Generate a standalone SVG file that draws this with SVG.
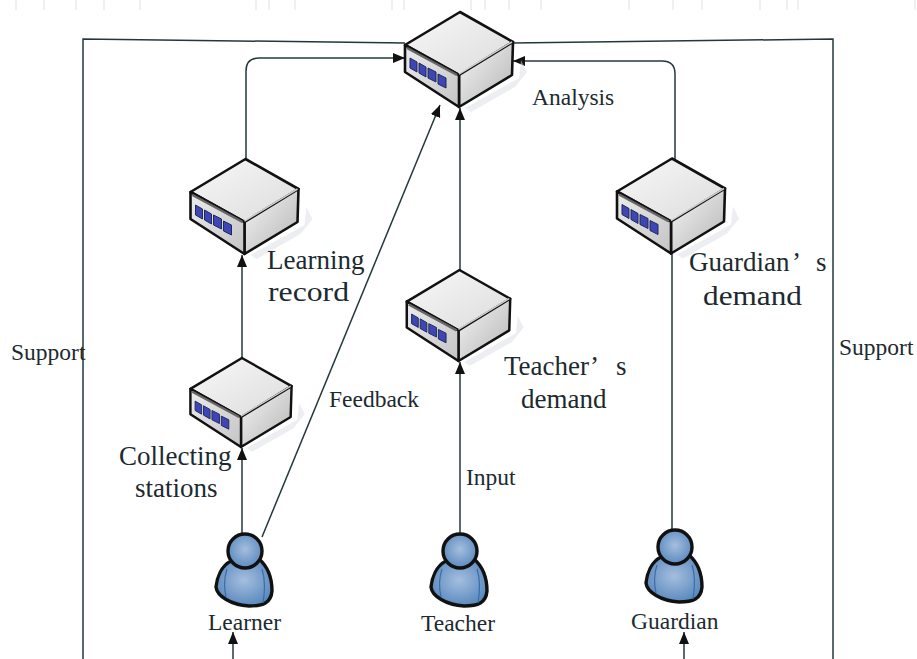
<svg xmlns="http://www.w3.org/2000/svg" width="917" height="659" viewBox="0 0 917 659">
<style>
text{font-family:"Liberation Serif","Times New Roman",serif;fill:#1c2a30}
.s{font-size:23.5px}.l{font-size:27px}
.c{fill:none;stroke:#24383c;stroke-width:1.5}
.e{stroke:#111;stroke-width:2.6;stroke-linejoin:round}
.g{stroke:#ececec;stroke-width:1.5}
</style>
<defs>
<linearGradient id="top" x1="0" y1="0" x2="1" y2="1"><stop offset="0" stop-color="#f8f8f8"/><stop offset="1" stop-color="#dcdcdc"/></linearGradient>
<linearGradient id="side" x1="0" y1="0" x2="1" y2="1"><stop offset="0" stop-color="#f6f6f6"/><stop offset="1" stop-color="#b4b4b4"/></linearGradient>
<linearGradient id="front" x1="0" y1="0" x2="1" y2="1"><stop offset="0" stop-color="#ececec"/><stop offset="1" stop-color="#c4c4c4"/></linearGradient>
<radialGradient id="blue" cx=".5" cy=".45" r=".6"><stop offset="0" stop-color="#a5bede"/><stop offset="1" stop-color="#5586bc"/></radialGradient>
<marker id="a" markerWidth="14" markerHeight="12" refX="12" refY="5" orient="auto" markerUnits="userSpaceOnUse"><path d="M0,0 L12,5 L0,10 Z" fill="#111"/></marker>
<symbol id="srv" viewBox="0 0 108 95" overflow="visible">
<path d="M60,96 L114,66 L116,48 L122,60 L110,75 L66,100 Z" fill="#d9dee4" opacity=".5"/>
<path class="e" d="M55,0 L108,30 L54,63 L0,33 Z" fill="url(#top)"/>
<path class="e" d="M108,30 L107,63 L54,95 L54,63 Z" fill="url(#side)"/>
<path class="e" d="M0,33 L54,63 L54,95 L0,60 Z" fill="url(#front)"/>
<path d="M2,36 L52,63" stroke="#666" stroke-width="2.5" fill="none"/>
<path d="M54,62 L107,30" stroke="#fff" stroke-width="1.5" fill="none" opacity=".8"/>
<g fill="#3f45b4" stroke="#1d2b55" stroke-width="1">
<path d="M5,46 L12,50 L12,60 L5,56 Z"/><path d="M14,51 L21,55 L21,65 L14,61 Z"/><path d="M23,56 L31,60 L31,70 L23,66 Z"/><path d="M33,62 L41,66 L41,76 L33,72 Z"/>
</g>
</symbol>
<symbol id="per" viewBox="0 0 56 74" overflow="visible">
<path class="e" style="stroke-width:3.4" d="M15,28 C5,33 1,45 0,54 C1,63 15,72 33,73 C47,73 55,70 56,58 C56,44 51,33 43,26 Z" fill="url(#blue)"/>
<circle class="e" style="stroke-width:3.4" cx="29" cy="18" r="17" fill="url(#blue)"/>
<path d="M11,36 C8,45 8,55 10,64 M46,36 C49,45 49,58 47,70" fill="none" stroke="#3c6ca6" stroke-width="1.2"/>
</symbol>
</defs>
<rect width="917" height="659" fill="#fff"/>
<g id="top-marks" class="g">
<path d="M16,0V10M44,0V10M76,0V10M104,0V10M140,0V10M256,0V10M269,0V10M295,0V10M392,0V10M404,0V10M471,0V10M485,0V10M509,0V10M541,0V10M629,0V10M673,0V10M702,0V10M760,0V10M787,0V10M798,0V10M915,0V10"/>
</g>
<g id="connectors" class="c">
<path d="M83,659 V39 L405,43"/>
<path d="M833,659 V39 L513,43"/>
<path d="M246,160 V71 Q246,58 259,58 H405" marker-end="url(#a)"/>
<path d="M675,160 V74 Q675,61 662,61 H513" marker-end="url(#a)"/>
<path d="M242,534 V448" marker-end="url(#a)"/>
<path d="M242,358 V255" marker-end="url(#a)"/>
<path d="M262,537 L440,105" marker-end="url(#a)"/>
<path d="M460,535 V362" marker-end="url(#a)"/>
<path d="M460,270 V108" marker-end="url(#a)"/>
<path d="M672,530 V250"/>
<path d="M233,659 V632" marker-end="url(#a)"/>
<path d="M684,659 V632" marker-end="url(#a)"/>
</g>
<g id="analysis"><use href="#srv" x="405" y="12" width="108" height="95"/><text class="s" x="532" y="105">Analysis</text></g>
<g id="learning-record"><use href="#srv" x="190" y="159" width="109" height="95"/><text class="l" x="267" y="269">Learning</text><text class="l" x="268" y="301" textLength="81" lengthAdjust="spacingAndGlyphs">record</text></g>
<g id="collecting-stations"><use href="#srv" x="190" y="358" width="102" height="89"/><text class="l" x="119" y="465">Collecting</text><text class="l" x="135" y="497">stations</text></g>
<g id="teacher-demand"><use href="#srv" x="405" y="270" width="107" height="91"/><text class="l" x="504" y="375">Teacher<tspan x="590">’</tspan> <tspan x="616">s</tspan></text><text class="l" x="521" y="408">demand</text></g>
<g id="guardian-demand"><use href="#srv" x="617" y="158" width="108" height="96"/><text class="l" x="689" y="271">Guardian<tspan x="792">’</tspan> <tspan x="816">s</tspan></text><text class="l" x="703" y="305" textLength="99" lengthAdjust="spacingAndGlyphs">demand</text></g>
<g id="learner"><use href="#per" x="216" y="533" width="56" height="74"/><text class="s" x="208" y="630">Learner</text></g>
<g id="teacher"><use href="#per" x="431" y="533" width="56" height="74"/><text class="s" x="421" y="631">Teacher</text></g>
<g id="guardian"><use href="#per" x="646" y="529" width="56" height="74"/><text class="s" x="631" y="629">Guardian</text></g>
<g id="labels">
<text class="s" x="11" y="360">Support</text>
<text class="s" x="839" y="355">Support</text>
<text class="s" x="329" y="407">Feedback</text>
<text class="s" x="466" y="485">Input</text>
</g>
</svg>
